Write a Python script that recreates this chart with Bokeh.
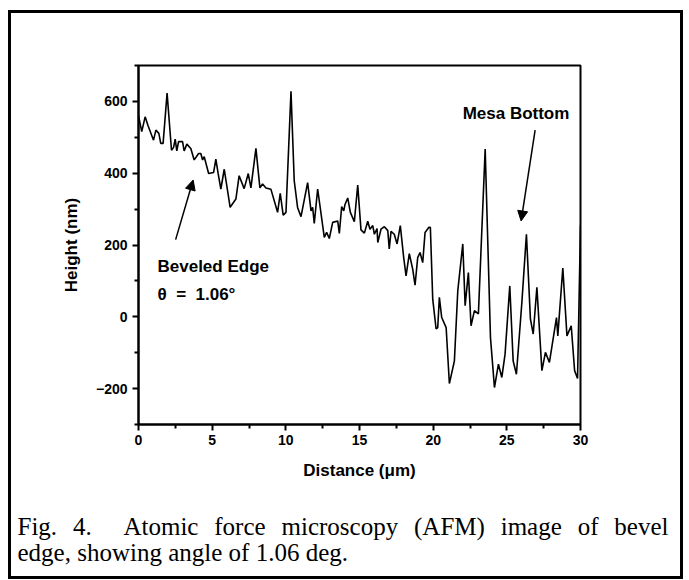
from bokeh.plotting import figure
from bokeh.layouts import column
from bokeh.models import FixedTicker, Label, Arrow, NormalHead, Range1d
from bokeh.core.properties import value
from bokeh.embed import file_html
from bokeh.resources import INLINE

distance = [0.00, 0.22, 0.45, 0.65, 1.02, 1.18, 1.38, 1.51, 1.67, 1.94, 2.24, 2.38, 2.49, 2.60, 2.72, 2.99,
            3.10, 3.28, 3.55, 3.78, 4.08, 4.23, 4.35, 4.46, 4.76, 5.10, 5.25, 5.41, 5.59, 5.82, 6.22, 6.61,
            6.83, 7.17, 7.45, 7.63, 7.97, 8.24, 8.42, 8.65, 8.99, 9.44, 9.62, 9.82, 10.01, 10.35, 10.57,
            10.80, 11.03, 11.48, 11.71, 11.82, 11.93, 12.16, 12.61, 12.77, 12.95, 13.18, 13.52, 13.63,
            13.79, 13.93, 14.01, 14.20, 14.38, 14.65, 14.88, 15.10, 15.33, 15.56, 15.71, 15.90, 16.01,
            16.19, 16.24, 16.46, 16.69, 16.92, 17.02, 17.14, 17.36, 17.55, 17.77, 18.00, 18.16, 18.38,
            18.61, 18.77, 18.95, 19.11, 19.29, 19.45, 19.70, 19.81, 19.97, 20.20, 20.31, 20.42, 20.58,
            20.88, 21.10, 21.44, 21.67, 22.01, 22.17, 22.39, 22.57, 22.80, 23.07, 23.53, 23.89, 24.16,
            24.43, 24.66, 24.88, 25.20, 25.43, 25.65, 26.02, 26.33, 26.60, 26.79, 27.04, 27.38, 27.62,
            27.89, 28.37, 28.46, 28.80, 29.08, 29.37, 29.60, 29.80, 30.00]
height = [560, 516, 557, 532, 492, 520, 511, 483, 483, 623, 464, 472, 495, 462, 488, 488,
          462, 481, 469, 437, 455, 455, 437, 446, 399, 402, 439, 398, 356, 411, 305, 328,
          393, 357, 399, 359, 469, 359, 370, 359, 355, 291, 344, 283, 291, 628, 379,
          304, 279, 374, 295, 305, 260, 356, 221, 235, 218, 263, 267, 232,
          307, 295, 312, 331, 291, 265, 367, 242, 233, 266, 244, 254, 230,
          246, 207, 244, 251, 240, 189, 238, 230, 203, 254, 165, 114, 176,
          133, 88, 165, 179, 151, 235, 249, 249, 49, -34, -30, 54, -2,
          -30, -186, -123, 72, 203, 31, 123, -25, 17, 8, 467, -58, -197,
          -132, -169, -104, 86, -123, -160, 40, 230, -6, -48, 82, -150, -99,
          -127, -2, -53, 136, -53, -25, -150, -172, 255]

x_major_ticks = [0, 5, 10, 15, 20, 25, 30]
x_minor_ticks = [2.5, 7.5, 12.5, 17.5, 22.5, 27.5]
y_major_ticks = [-200, 0, 200, 400, 600]
y_minor_ticks = [-300, -100, 100, 300, 500, 700]

x_label = "Distance (\u03bcm)"
y_label = "Height (nm)"
caption_line1 = ["Fig.", "4.", "Atomic", "force", "microscopy", "(AFM)", "image", "of", "bevel"]
caption_line1_spaces = [1, 2, 1, 1, 1, 1, 1, 1]
caption_line2 = "edge, showing angle of 1.06 deg."

SANS = "Liberation Sans"
SERIF = "Liberation Serif"
NB = "\u00a0"

# ---------------- chart ----------------
p = figure(width=669, height=482, x_range=(0, 30), y_range=(-300, 700),
           output_backend="svg", toolbar_location=None,
           min_border_left=127, min_border_right=100, min_border_top=52, min_border_bottom=71)
p.frame_align = False
p.background_fill_color = "white"
p.border_fill_color = "white"
p.grid.visible = False
p.outline_line_color = "black"
p.outline_line_width = 2

p.line(distance, height, line_color="black", line_width=1.6)

p.xaxis.ticker = FixedTicker(ticks=x_major_ticks, minor_ticks=x_minor_ticks)
p.yaxis.ticker = FixedTicker(ticks=y_major_ticks, minor_ticks=y_minor_ticks)
for ax in (p.xaxis[0], p.yaxis[0]):
    ax.axis_line_width = 2
    ax.major_tick_line_width = 2
    ax.minor_tick_line_width = 2
    ax.major_tick_out = 6
    ax.major_tick_in = 0
    ax.minor_tick_out = 4
    ax.minor_tick_in = 0
    ax.major_label_text_font = SANS
    ax.major_label_text_font_style = "bold"
    ax.major_label_text_font_size = "14px"
    ax.major_label_text_color = "black"
    ax.axis_label_text_font = SANS
    ax.axis_label_text_font_style = "bold"
    ax.axis_label_text_font_size = "17px"
    ax.axis_label_text_color = "black"
p.xaxis.axis_label = x_label
p.yaxis.axis_label = y_label
p.xaxis.major_label_standoff = 4
p.yaxis.major_label_standoff = 5
p.xaxis.axis_label_standoff = 13
p.yaxis.axis_label_standoff = 12

ANN = dict(text_font=SANS, text_font_style="bold", text_font_size="17px",
           text_baseline="alphabetic", text_color="black")
p.add_layout(Label(x=22.0, y=566, text="Mesa Bottom", **ANN))
p.add_layout(Label(x=1.29, y=140, text="Beveled Edge", **ANN))
p.add_layout(Label(x=1.29, y=62, text="\u03b8" + NB * 2 + "=" + NB * 2 + "1.06\u00b0", **ANN))
p.add_layout(Arrow(x_start=2.52, y_start=215, x_end=3.71, y_end=381, line_width=1.5,
                   end=NormalHead(size=10, fill_color="black", line_color="black", line_width=1)))
p.add_layout(Arrow(x_start=26.92, y_start=520, x_end=25.97, y_end=267, line_width=1.5,
                   end=NormalHead(size=10, fill_color="black", line_color="black", line_width=1)))

# ---------------- caption ----------------
CAP_W, CAP_H = 669, 81
CAP_SIZE = 25
TIMES_EM = {"F": .556, "i": .278, "g": .5, ".": .25, "4": .5, "A": .722, "t": .278, "o": .5, "m": .778,
            "c": .444, "f": .333, "r": .333, "e": .444, "s": .389, "p": .5, "y": .5, "(": .333, "M": .889,
            ")": .333, "a": .444, "b": .5, "v": .5, "l": .278, "d": .5, "h": .5, "w": .722, "n": .5,
            ",": .25, "1": .5, "0": .5, "6": .5, " ": .25}


def text_width(s):
    return sum(TIMES_EM.get(c, .5) for c in s) * CAP_SIZE


line_left, line_right = 6, 657
natural = sum(text_width(w) for w in caption_line1)
space_w = (line_right - line_left - natural) / sum(caption_line1_spaces)
word_x = [line_left]
for w, n in zip(caption_line1[:-1], caption_line1_spaces):
    word_x.append(word_x[-1] + text_width(w) + n * space_w)

cap = figure(width=CAP_W, height=CAP_H, x_range=Range1d(0, CAP_W), y_range=Range1d(CAP_H, 0),
             output_backend="svg", toolbar_location=None, min_border=0,
             x_axis_location=None, y_axis_location=None)
cap.frame_align = False
cap.grid.visible = False
cap.outline_line_color = None
cap.background_fill_color = "white"
cap.border_fill_color = "white"
cap.text(x=word_x, y=[31] * len(caption_line1), text=caption_line1, text_font=value(SERIF),
         text_font_size=f"{CAP_SIZE}px", text_baseline="alphabetic", text_color="black")
cap.text(x=[6], y=[57], text=[caption_line2], text_font=value(SERIF),
         text_font_size=f"{CAP_SIZE}px", text_baseline="alphabetic", text_color="black")

page = column(p, cap, spacing=0, margin=(10, 0, 0, 8),
              styles={"border": "3px solid black", "background-color": "white"})

open("out.html", "w").write(file_html(page, INLINE))
